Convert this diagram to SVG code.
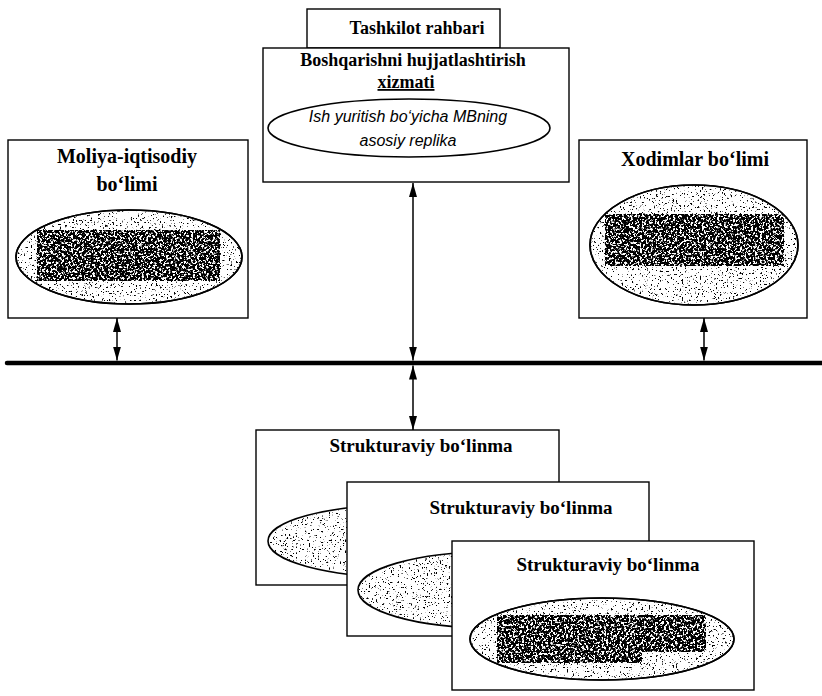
<svg xmlns="http://www.w3.org/2000/svg" width="822" height="696" viewBox="0 0 822 696">
  <style>
    .box { fill: #fff; stroke: #000; stroke-width: 1.4; }
    .oval { fill: #fff; stroke: #000; stroke-width: 1.6; }
    .title { font-family: "Liberation Serif", "Times New Roman", serif; font-weight: bold; fill: #000; text-anchor: middle; }
    .note { font-family: "Liberation Sans", Arial, sans-serif; font-style: italic; font-size: 16px; fill: #000; text-anchor: middle; }
    .link { stroke: #000; stroke-width: 1.5; fill: none; marker-start: url(#head); marker-end: url(#head); }
    .bus { stroke: #000; stroke-width: 4.5; stroke-linecap: round; fill: none; }
  </style>
  <defs>
    <marker id="head" viewBox="0 0 14 8" refX="14" refY="4" markerWidth="14" markerHeight="8" markerUnits="userSpaceOnUse" orient="auto-start-reverse">
      <path d="M0,0 L14,4 L0,8 z" fill="#000"/>
    </marker>
    <!-- sparse black stipple inside the shape -->
    <filter id="stip" x="0" y="0" width="1" height="1" color-interpolation-filters="sRGB">
      <feTurbulence type="fractalNoise" baseFrequency="0.55" numOctaves="3" seed="4"/>
      <feColorMatrix type="matrix" values="0 0 0 0 0  0 0 0 0 0  0 0 0 0 0  14 0 0 0 -8.9"/>
      <feComposite in2="SourceAlpha" operator="in"/>
    </filter>
    <!-- dense, mottled stipple for the blotted label areas -->
    <filter id="dense" x="0" y="0" width="1" height="1" color-interpolation-filters="sRGB">
      <feTurbulence type="fractalNoise" baseFrequency="0.45" numOctaves="3" seed="9"/>
      <feColorMatrix type="matrix" values="0 0 0 0 0  0 0 0 0 0  0 0 0 0 0  12 0 0 0 -4.9"/>
      <feComposite in2="SourceAlpha" operator="in"/>
    </filter>
  </defs>

  <!-- shared bus and the double-headed links onto it -->
  <g id="connectors">
    <line class="bus" x1="7" y1="363" x2="822" y2="363"/>
    <line class="link" x1="413" y1="183" x2="413" y2="360.5"/>
    <line class="link" x1="413" y1="365.5" x2="413" y2="430"/>
    <line class="link" x1="117" y1="318" x2="117" y2="360.5"/>
    <line class="link" x1="704" y1="318" x2="704" y2="360.5"/>
  </g>

  <g id="rahbar">
    <rect class="box" x="307" y="9" width="193" height="39"/>
    <text class="title" x="417" y="34" font-size="18">Tashkilot rahbari</text>
  </g>

  <g id="hujjat-xizmati">
    <rect class="box" x="263" y="48" width="306" height="134"/>
    <text class="title" x="413" y="66" font-size="18">Boshqarishni hujjatlashtirish</text>
    <text class="title" x="406" y="88" font-size="18" text-decoration="underline">xizmati</text>
    <ellipse class="oval" cx="409" cy="128" rx="141" ry="29"/>
    <text class="note" x="408" y="122">Ish yuritish bo‘yicha MBning</text>
    <text class="note" x="408" y="146">asosiy replika</text>
  </g>

  <g id="moliya">
    <rect class="box" x="8" y="140" width="240" height="178"/>
    <text class="title" x="127" y="163" font-size="20">Moliya-iqtisodiy</text>
    <text class="title" x="127" y="191" font-size="20">bo‘limi</text>
    <ellipse class="oval" cx="129" cy="257" rx="113" ry="47"/>
    <ellipse cx="129" cy="257" rx="112" ry="46" fill="#000" filter="url(#stip)"/>
    <rect x="37" y="230" width="183" height="51" fill="#000" filter="url(#dense)"/>
    <ellipse cx="129" cy="257" rx="113" ry="47" fill="none" stroke="#000" stroke-width="1.6"/>
  </g>

  <g id="xodimlar">
    <rect class="box" x="579" y="140" width="228" height="178"/>
    <text class="title" x="695" y="166" font-size="20">Xodimlar bo‘limi</text>
    <ellipse class="oval" cx="694" cy="245" rx="104" ry="60"/>
    <ellipse cx="694" cy="245" rx="103" ry="59" fill="#000" filter="url(#stip)"/>
    <rect x="605" y="214" width="179" height="52" fill="#000" filter="url(#dense)"/>
    <ellipse cx="694" cy="245" rx="104" ry="60" fill="none" stroke="#000" stroke-width="1.6"/>
  </g>

  <g id="bolinma-1">
    <rect class="box" x="256" y="430" width="303" height="155"/>
    <text class="title" x="421" y="452" font-size="19">Strukturaviy bo‘linma</text>
    <ellipse class="oval" cx="400" cy="541" rx="132" ry="36"/>
    <ellipse cx="400" cy="541" rx="131" ry="35" fill="#000" filter="url(#stip)"/>
  </g>

  <g id="bolinma-2">
    <rect class="box" x="347" y="482" width="302" height="154"/>
    <text class="title" x="521" y="514" font-size="19">Strukturaviy bo‘linma</text>
    <ellipse class="oval" cx="490" cy="590" rx="132" ry="38"/>
    <ellipse cx="490" cy="590" rx="131" ry="37" fill="#000" filter="url(#stip)"/>
  </g>

  <g id="bolinma-3">
    <rect class="box" x="452" y="541" width="302" height="149"/>
    <text class="title" x="608" y="571" font-size="19">Strukturaviy bo‘linma</text>
    <ellipse class="oval" cx="602" cy="639" rx="132" ry="41"/>
    <ellipse cx="602" cy="639" rx="131" ry="40" fill="#000" filter="url(#stip)"/>
    <path d="M497,615 H706 V652 H642 V663 H497 Z" fill="#000" filter="url(#dense)"/>
    <ellipse cx="602" cy="639" rx="132" ry="41" fill="none" stroke="#000" stroke-width="1.6"/>
  </g>
</svg>
